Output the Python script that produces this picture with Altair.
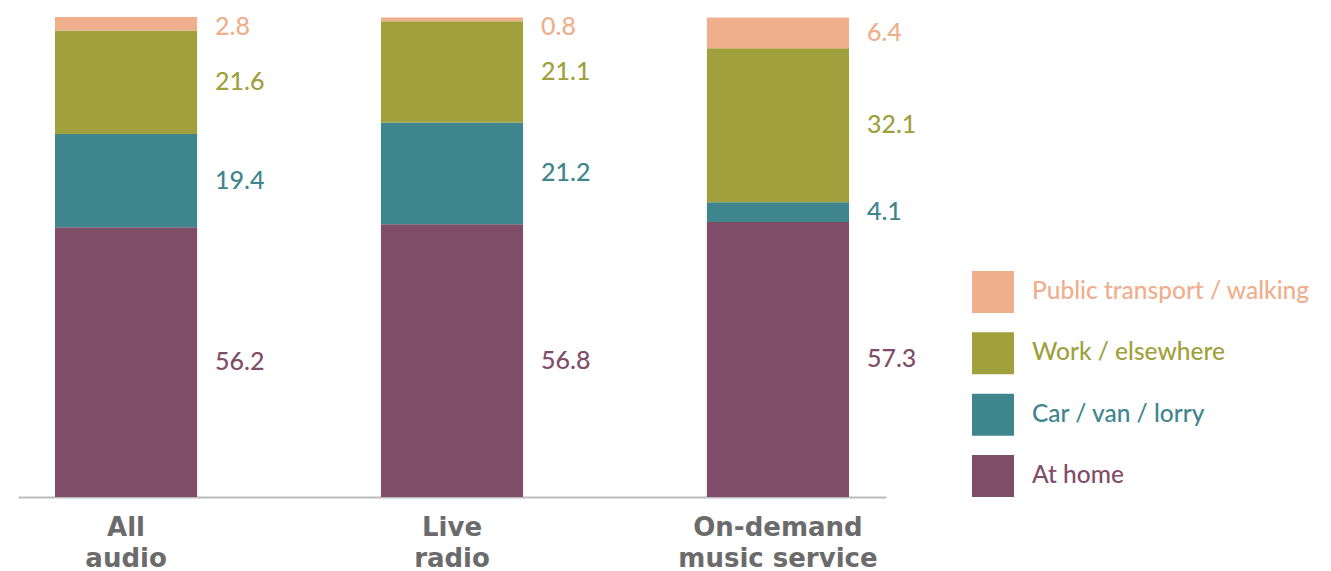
import altair as alt
import pandas as pd

categories = ["All audio", "Live radio", "On-demand music service"]
series = ["At home", "Car / van / lorry", "Work / elsewhere", "Public transport / walking"]
colors = ["#7F4D67", "#3E858E", "#A0A03C", "#EFAE8C"]

at_home = [56.2, 56.8, 57.3]
car = [19.4, 21.2, 4.1]
work = [21.6, 21.1, 32.1]
public = [2.8, 0.8, 6.4]

rows = []
for si, (s, vals) in enumerate(zip(series, [at_home, car, work, public])):
    for c, v in zip(categories, vals):
        rows.append({"cat": c, "series": s, "value": v, "ord": si})
df = pd.DataFrame(rows)

color_scale = alt.Scale(domain=series, range=colors)

base = alt.Chart(df).transform_stack(
    stack="value", groupby=["cat"], sort=[alt.SortField("ord", order="ascending")], as_=["v0", "v1"]
).transform_calculate(mid="min((datum.v0 + datum.v1) / 2, 97.9)")

xenc = alt.X(
    "cat:N",
    sort=categories,
    title=None,
    scale=alt.Scale(paddingInner=0.564, paddingOuter=0.1135),
    axis=alt.Axis(
        labelAngle=0,
        ticks=False,
        domainColor="#bbbbbb",
        domainWidth=2,
        labelFont="DejaVu Sans",
        labelFontWeight="bold",
        labelFontSize=26,
        labelColor="#6b6b6b",
        labelLineHeight=31,
        labelPadding=17,
        labelLimit=0,
        labelExpr="datum.label == 'On-demand music service' ? ['On-demand', 'music service'] : split(datum.label, ' ')",
    ),
)

yscale = alt.Scale(domain=[0, 100], nice=False)

bars = base.mark_bar().encode(
    x=xenc,
    y=alt.Y("v0:Q", scale=yscale, axis=None),
    y2="v1:Q",
    color=alt.Color("series:N", scale=color_scale, legend=None),
)

labels = base.mark_text(
    align="left", baseline="middle", xOffset=89, font="Lato", fontSize=25, fontWeight=500
).encode(
    x=alt.X("cat:N", sort=categories),
    y=alt.Y("mid:Q", scale=yscale, axis=None),
    text=alt.Text("value:Q", format=".1f"),
    color=alt.Color("series:N", scale=color_scale, legend=None),
)

leg_df = pd.DataFrame({"series": series})
leg_order = list(reversed(series))
leg_y = alt.Y("series:N", scale=alt.Scale(type="point", domain=leg_order, range=[275, 459], padding=0), axis=None)
leg_sq = alt.Chart(leg_df).mark_square(size=1764, opacity=1).encode(
    x=alt.value(975), y=leg_y, color=alt.Color("series:N", scale=color_scale, legend=None)
)
leg_tx = alt.Chart(leg_df).mark_text(
    align="left", baseline="middle", font="Lato", fontSize=24.5, fontWeight=500
).encode(
    x=alt.value(1014), y=leg_y, text="series:N", color=alt.Color("series:N", scale=color_scale, legend=None)
)

chart = alt.layer(bars, labels, leg_sq, leg_tx).resolve_scale(y="independent").properties(
    width=868,
    height=480,
    autosize=alt.AutoSizeParams(type="none"),
    padding={"left": 10, "top": 9, "right": 437, "bottom": 74},
).configure_view(stroke=None)

chart.save("out.html", embed_options={"renderer": "svg", "actions": False})
